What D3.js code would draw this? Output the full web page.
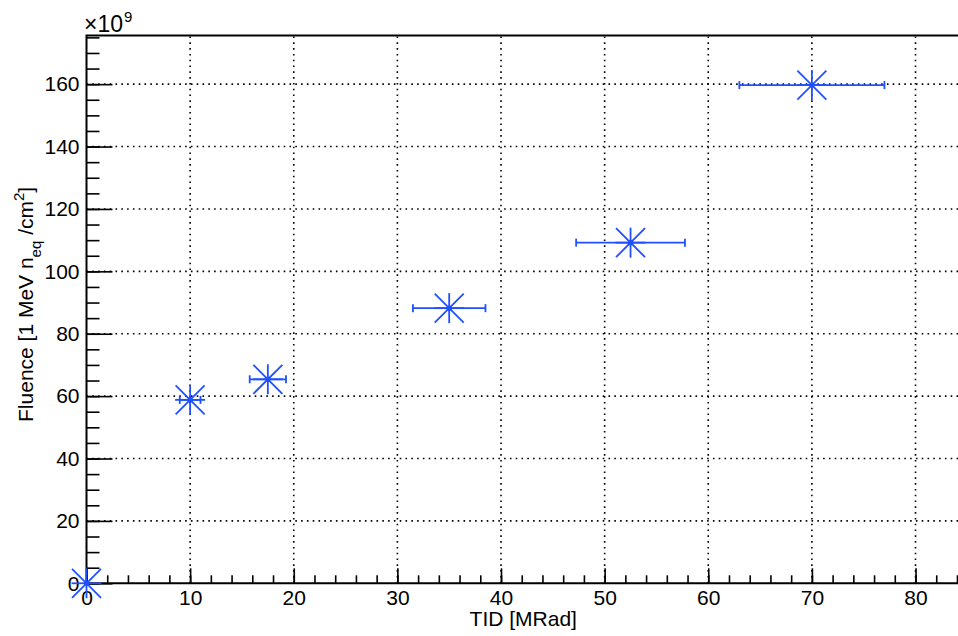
<!DOCTYPE html>
<html lang="en">
<head>
    <meta charset="UTF-8">
    <script src="https://cdn.jsdelivr.net/npm/d3@7"></script>
    <style>
body {
    margin: 0;
    background-color: #fff;
    font-family: "Liberation Sans", Arial, sans-serif;
}

.axis text {
    font-size: 21px;
    fill: #000;
}

.axis line {
    stroke: #000;
    stroke-width: 1.6px;
}

.grid line {
    stroke: #000;
    stroke-width: 1.6px;
    stroke-dasharray: 1.6, 4.2;
}

.frame {
    fill: none;
    stroke: #000;
    stroke-width: 2px;
}

.err {
    stroke: #1f4fff;
    stroke-width: 1.8px;
}

.marker line {
    stroke: #1f4fff;
    stroke-width: 1.8px;
}
    </style>
</head>
<body>
    <div id="chart"></div>
    <script>
        // TID points [MRad] with horizontal errors, fluence in units of 1e9 n_eq/cm^2
        const tid = [0, 10, 17.5, 35, 52.5, 70];
        const tidErr = [0, 1, 1.75, 3.5, 5.25, 7];
        const fluence = [0, 58.8, 65.4, 88.2, 109.2, 159.7];

        const xTicks = [0, 10, 20, 30, 40, 50, 60, 70, 80];
        const yTicks = [0, 20, 40, 60, 80, 100, 120, 140, 160];

        const W = 958, H = 636;
        const frame = {left: 86.5, right: 958, top: 35.5, bottom: 583.3};

        const svg = d3.select("#chart").append("svg")
            .attr("width", W)
            .attr("height", H);

        const x = d3.scaleLinear()
            .domain([0, 84.1])
            .range([frame.left, frame.right]);

        const y = d3.scaleLinear()
            .domain([0, 175.6])
            .range([frame.bottom, frame.top]);

        // Grid (dotted)
        const grid = svg.append("g").attr("class", "grid");
        grid.selectAll(".gx")
            .data(xTicks.filter(d => d > 0))
            .enter().append("line")
            .attr("x1", d => x(d)).attr("x2", d => x(d))
            .attr("y1", frame.bottom).attr("y2", frame.top);
        grid.selectAll(".gy")
            .data(yTicks.filter(d => d > 0))
            .enter().append("line")
            .attr("x1", frame.left).attr("x2", frame.right)
            .attr("y1", d => y(d)).attr("y2", d => y(d));

        // Minor ticks
        svg.append("g")
            .attr("class", "x axis minor")
            .attr("transform", `translate(0,${frame.bottom})`)
            .call(d3.axisBottom(x).tickValues(d3.range(0, 84.1, 2)).tickSizeInner(-8).tickSizeOuter(0).tickFormat(""))
            .select(".domain").remove();

        svg.append("g")
            .attr("class", "y axis minor")
            .attr("transform", `translate(${frame.left},0)`)
            .call(d3.axisLeft(y).tickValues(d3.range(0, 175.6, 5)).tickSizeInner(-13).tickSizeOuter(0).tickFormat(""))
            .select(".domain").remove();

        // Major ticks + labels
        svg.append("g")
            .attr("class", "x axis")
            .attr("transform", `translate(0,${frame.bottom})`)
            .call(d3.axisBottom(x).tickValues(xTicks).tickSizeInner(-15).tickSizeOuter(0).tickPadding(7).tickFormat(d3.format("d")))
            .select(".domain").remove();

        svg.append("g")
            .attr("class", "y axis")
            .attr("transform", `translate(${frame.left},0)`)
            .call(d3.axisLeft(y).tickValues(yTicks).tickSizeInner(-26).tickSizeOuter(0).tickPadding(7).tickFormat(d3.format("d")))
            .select(".domain").remove();

        // Frame
        svg.append("path")
            .attr("class", "frame")
            .attr("d", `M${frame.right},${frame.top}H${frame.left}V${frame.bottom}H${frame.right}`);

        // Exponent label
        const expo = svg.append("text")
            .attr("x", 84)
            .attr("y", 32)
            .style("font-size", "23px");
        expo.append("tspan").text("\u00d710");
        expo.append("tspan").attr("dx", 1).attr("dy", -10).style("font-size", "15px").text("9");

        // Axis titles
        svg.append("text")
            .attr("x", (frame.left + frame.right) / 2 + 1)
            .attr("y", 626)
            .attr("text-anchor", "middle")
            .style("font-size", "21px")
            .text("TID [MRad]");

        const yt = svg.append("text")
            .attr("transform", `translate(33,${(frame.top + frame.bottom) / 2 - 5}) rotate(-90)`)
            .attr("text-anchor", "middle")
            .style("font-size", "21px");
        yt.append("tspan").text("Fluence [1 MeV n");
        yt.append("tspan").attr("dy", 8).style("font-size", "15px").text("eq");
        yt.append("tspan").attr("dy", -8).text("  /cm");
        yt.append("tspan").attr("dy", -9).style("font-size", "15px").text("2");
        yt.append("tspan").attr("dy", 9).text("]");

        // Data
        const pts = tid.map((t, i) => ({x: t, ex: tidErr[i], y: fluence[i]}));

        const errs = svg.append("g");
        pts.filter(d => d.ex > 0).forEach(d => {
            const g = errs.append("g").attr("class", "err");
            g.append("line")
                .attr("x1", x(d.x - d.ex)).attr("x2", x(d.x + d.ex))
                .attr("y1", y(d.y)).attr("y2", y(d.y));
            [d.x - d.ex, d.x + d.ex].forEach(e => {
                g.append("line")
                    .attr("x1", x(e)).attr("x2", x(e))
                    .attr("y1", y(d.y) - 4).attr("y2", y(d.y) + 4);
            });
        });

        const arms = [[15, 0], [0, 15], [14.5, 14.5], [14.5, -14.5]];
        const markers = svg.selectAll(".marker")
            .data(pts)
            .enter().append("g")
            .attr("class", "marker")
            .attr("transform", d => `translate(${x(d.x)},${y(d.y)})`);
        arms.forEach(a => {
            markers.append("line")
                .attr("x1", -a[0]).attr("y1", -a[1])
                .attr("x2", a[0]).attr("y2", a[1]);
        });
        markers.append("circle")
            .attr("r", 2.6)
            .attr("fill", "#1f4fff");
    </script>
</body>
</html>
